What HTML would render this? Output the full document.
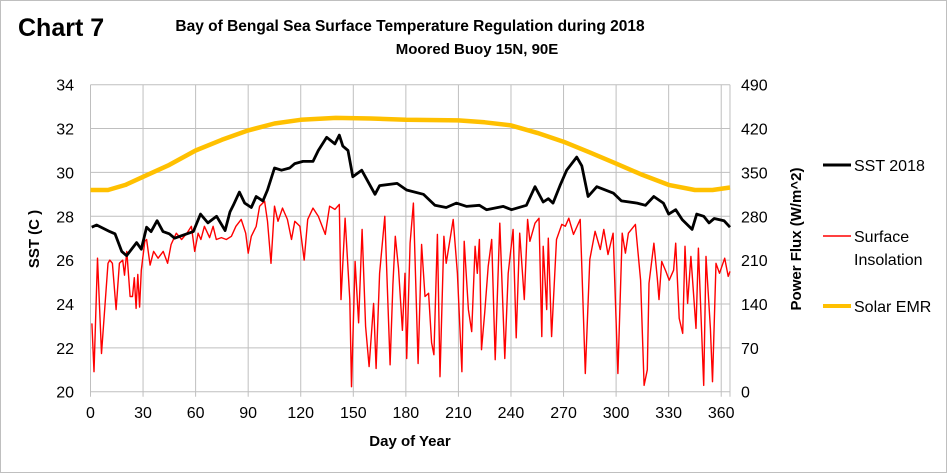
<!DOCTYPE html>
<html><head><meta charset="utf-8">
<style>
html,body{margin:0;padding:0;background:#fff;}
svg{display:block;font-family:"Liberation Sans",Arial,sans-serif;}
</style></head>
<body>
<svg id="chart" width="952" height="474" viewBox="0 0 952 474" xmlns="http://www.w3.org/2000/svg">
<rect x="0.5" y="0.5" width="946" height="472" fill="#fff" stroke="#bfbfbf"/>
<text x="18" y="36" font-size="25" font-weight="bold">Chart 7</text>
<text x="410" y="31" font-size="15.5" font-weight="bold" text-anchor="middle">Bay of Bengal Sea Surface Temperature Regulation during 2018</text>
<text x="477" y="54" font-size="15" font-weight="bold" text-anchor="middle">Moored Buoy 15N, 90E</text>
<g id="grid"></g>
<g id="ticks"></g>
<g id="series"></g>
<text transform="translate(39,239) rotate(-90)" font-size="15" font-weight="bold" text-anchor="middle">SST (C )</text>
<text transform="translate(801,239) rotate(-90)" font-size="15" font-weight="bold" text-anchor="middle">Power Flux (W/m^2)</text>
<text x="410" y="446" font-size="15" font-weight="bold" text-anchor="middle">Day of Year</text>
<g font-size="16">
<g><line x1="823" y1="165" x2="851" y2="165" stroke="#000" stroke-width="3"/><text x="854" y="171">SST 2018</text></g>
<g><line x1="823" y1="236" x2="851" y2="236" stroke="#f00" stroke-width="1.5"/><text x="854" y="242">Surface</text><text x="854" y="265">Insolation</text></g>
<g><line x1="823" y1="306" x2="851" y2="306" stroke="#ffc000" stroke-width="4"/><text x="854" y="312">Solar EMR</text></g>
</g>
</svg>
<script>
const xTicks=[0,30,60,90,120,150,180,210,240,270,300,330,360];
const yLeftTicks=[20,22,24,26,28,30,32,34];
const yRightTicks=[0,70,140,210,280,350,420,490];
const sstDays=[0.7,3.5,11,14,17.8,20.6,26.3,29,32,34.6,38,41.4,45,48,55,58.7,62.8,67,72,76.8,79.6,81.5,85,88,91.8,94.6,98.4,101,105,109,113.7,116.6,121.3,127,130,134.8,139.5,142,144,147,149.7,154.8,162.4,165,175,180.4,190,196.6,203,208.8,214.7,222,226,235.6,240.3,248.8,253.7,258.4,261.3,264,268,271.8,277.5,280.4,284,289,298.5,303,312,316.8,321.5,327,330,334,337.7,343.4,346,350,353,356,361.6,365];
const sstValues=[27.5,27.6,27.3,27.2,26.4,26.2,26.8,26.5,27.5,27.3,27.8,27.3,27.2,27.0,27.2,27.3,28.1,27.7,28.0,27.35,28.2,28.5,29.1,28.6,28.4,28.9,28.7,29.2,30.2,30.1,30.2,30.4,30.5,30.5,31.0,31.6,31.3,31.7,31.2,31.0,29.8,30.1,29.0,29.4,29.5,29.2,29.0,28.5,28.4,28.6,28.45,28.5,28.3,28.45,28.3,28.5,29.35,28.65,28.8,28.6,29.4,30.1,30.7,30.3,28.9,29.35,29.05,28.7,28.6,28.5,28.9,28.6,28.1,28.3,27.85,27.4,28.1,28.0,27.7,27.9,27.8,27.5];
const insolDays=[0.8,2,4,6.3,10,11,12.5,14.6,16.5,18.4,19.4,20.7,22.6,24,25,26,27,28,29,31,32,34,36,38.6,41.5,44,46,49,52,55,57.6,59.5,61.4,63,65,68,70,71.8,74.7,77.5,80.4,83,86,88.6,90,91.8,94.6,96.5,99.4,101,103,105,107,109.6,112.4,114.7,116.6,119.5,122,124,127,130,134,136.5,139.5,142,143,145.3,148,149,151,153,155,157,159,161.6,163,165,168,171,172.6,174,175.8,178,179.5,180.5,182.4,184.3,187,189,190.9,193,194.7,196,198,199.5,201.7,203,207,209.4,212,213.3,215.7,217.6,219.5,220.8,222,223.2,225,227,229,231,233.6,236.5,238.4,241.2,243,245,247.6,249.5,250.8,253.7,256,257.6,258.4,260.4,261.3,263.2,266,269,271,273,275.7,279.5,280.4,282.4,285,288,291,293,295.4,298.3,301,303.5,305.3,307,311,314,316,317.8,318.8,321.6,323.5,324.5,326,328.4,330.3,332.8,334,336,338,339.3,340.8,342.7,345.6,347,350,351.3,353.8,355,357,359,362,364,365];
const insolValues=[109,32,213,61,205,210,205,131,205,210,186,224,152,152,182,133,187,135,194,240,243,202,224,213,224,205,235,253,243,253,264,224,253,243,264,246,264,243,246,243,248,264,275,253,221,248,264,296,304,272,205,296,272,293,275,243,272,264,210,275,293,280,251,296,291,299,147,277,147,8,208,110,259,104,40,141,37,189,280,43,171,248,197,98,189,53,237,301,45,235,152,157,78,59,251,24,248,205,275,189,32,240,131,96,232,189,243,67,126,200,243,51,269,53,189,259,86,253,147,275,240,269,277,88,232,131,245,88,243,267,264,277,251,275,200,29,211,256,227,259,219,253,29,253,221,253,267,178,10,35,173,237,181,147,208,192,178,194,237,117,93,232,141,216,101,229,10,216,101,16,205,189,213,184,192];
const emrDays=[0,10,20,30,45,60,75,90,105,120,140,160,180,210,225,240,255,270,285,300,315,330,345,355,365];
const emrValues=[322,322,330,343,362,385,402,417,428,434,437,436,434,433,430,425,413,399,382,364,346,330,322,322,326];

const X0=90.5,PXD=1.752,YTOP=84.7,YBOT=391.7;
function xS(d){return X0+d*PXD;}
function yL(v){return YBOT-(v-20)/14*(YBOT-YTOP);}
function yR(v){return YBOT-v/490*(YBOT-YTOP);}
const NS="http://www.w3.org/2000/svg";
function mk(tag,attrs,parent){const e=document.createElementNS(NS,tag);for(const k in attrs)e.setAttribute(k,attrs[k]);parent.appendChild(e);return e;}
const grid=document.getElementById('grid'),ticks=document.getElementById('ticks'),series=document.getElementById('series');
yLeftTicks.forEach((v,i)=>{
  const l=mk('line',{x1:X0,x2:xS(365),y1:yL(v),y2:yL(v),stroke:'#bfbfbf','stroke-width':1},grid);
  
  
  const t=mk('text',{x:74,y:yL(v)+6,'font-size':16,'text-anchor':'end'},ticks);t.textContent=v;
  
  
});
yRightTicks.forEach(v=>{
  const t=mk('text',{x:741,y:yR(v)+6,'font-size':16},ticks);t.textContent=v;
  
  
});
xTicks.forEach(v=>{
  const l=mk('line',{x1:xS(v),x2:xS(v),y1:YTOP,y2:YBOT+5,stroke:'#bfbfbf','stroke-width':1},grid);
  
  
  const t=mk('text',{x:xS(v),y:418,'font-size':16,'text-anchor':'middle'},ticks);t.textContent=v;
  
  
});
const rb=mk('line',{x1:xS(365),x2:xS(365),y1:YTOP,y2:YBOT+5,stroke:'#bfbfbf','stroke-width':1},grid);


function path(days,vals,fy){return days.map((d,i)=>(i?'L':'M')+xS(d).toFixed(1)+','+fy(vals[i]).toFixed(1)).join('');}
const pI=mk('path',{d:path(insolDays,insolValues,yR),fill:'none',stroke:'#f00','stroke-width':1.4,'stroke-linejoin':'round'},series);


const pE=mk('path',{d:path(emrDays,emrValues,yR),fill:'none',stroke:'#ffc000','stroke-width':4.5,'stroke-linejoin':'round'},series);


const pS=mk('path',{d:path(sstDays,sstValues,yL),fill:'none',stroke:'#000','stroke-width':2.8,'stroke-linejoin':'round'},series);


</script>
</body></html>
